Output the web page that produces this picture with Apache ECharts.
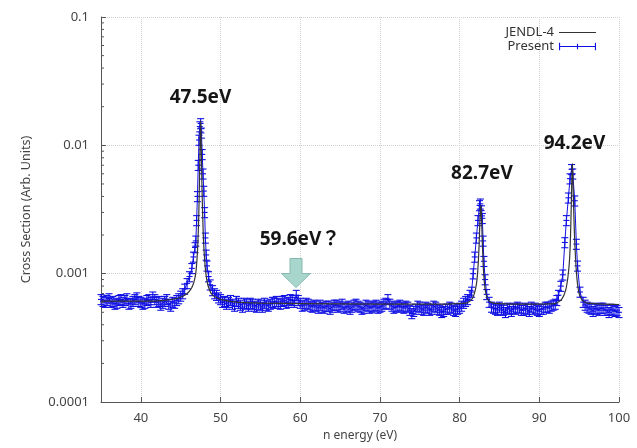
<!DOCTYPE html>
<html><head><meta charset="utf-8">
<script src="https://cdn.jsdelivr.net/npm/echarts@6/dist/echarts.min.js"></script>
<style>html,body{margin:0;padding:0;background:#fff}#c{width:637px;height:448px}</style>
</head><body><div id="c"></div>
<script>
// Values of both curves are given in units of 1e-4 (arb. units)
const Y_UNIT = 1e-4;

// Present measurement: neutron energy (eV)
const presentE = [
  35,35.25,35.5,35.75, 36,36.25,36.5,36.75, 37,37.25,37.5,37.75, 38,38.25,38.5,38.75, 39,39.25,39.5,39.75,
  40,40.25,40.5,40.75, 41,41.25,41.5,41.75, 42,42.25,42.5,42.75, 43,43.25,43.5,43.75, 44,44.25,44.5,44.75, 45,45.25,
  45.5,45.8,46.1,46.4,46.6,46.8,46.9,47,47.1,47.2,47.3,47.4,47.5,47.6,47.7,47.8,47.9,48,48.1,48.2,48.3,48.5,48.7,49,
  49.25,49.5,49.75,
  50,50.25,50.5,50.75, 51,51.25,51.5,51.75, 52,52.25,52.5,52.75, 53,53.25,53.5,53.75, 54,54.25,54.5,54.75,
  55,55.25,55.5,55.75, 56,56.25,56.5,56.75, 57,57.25,57.5,57.75, 58,58.25,58.5,58.75, 59,59.25,59.5,59.75,
  60,60.25,60.5,60.75, 61,61.25,61.5,61.75, 62,62.25,62.5,62.75, 63,63.25,63.5,63.75, 64,64.25,64.5,64.75,
  65,65.25,65.5,65.75, 66,66.25,66.5,66.75, 67,67.25,67.5,67.75, 68,68.25,68.5,68.75, 69,69.25,69.5,69.75,
  70,70.25,70.5,70.75, 71,71.25,71.5,71.75, 72,72.25,72.5,72.75, 73,73.25,73.5,73.75, 74,74.25,74.5,74.75,
  75,75.25,75.5,75.75, 76,76.25,76.5,76.75, 77,77.25,77.5,77.75, 78,78.25,78.5,78.75, 79,79.25,79.5,79.75,
  80,80.25,80.5,80.75, 81,
  81.3,81.5,81.7,81.9,82.1,82.3,82.5,82.6,82.75,82.85,82.95,83.05,83.2,83.4,83.7,
  84,84.25,84.5,84.75, 85,85.25,85.5,85.75, 86,86.25,86.5,86.75, 87,87.25,87.5,87.75, 88,88.25,88.5,88.75,
  89,89.25,89.5,89.75, 90,90.25,90.5,90.75, 91,91.25,91.5,91.75, 92,
  92.2,92.4,92.7,92.95,93.2,93.4,93.65,93.85,94.05,94.2,94.45,94.65,94.8,95.1,95.5,
  95.75, 96,96.25,96.5,96.75, 97,97.25,97.5,97.75, 98,98.25,98.5,98.75, 99,99.25,99.5,99.75, 100
];
// Present measurement: cross section (x 1e-4)
const presentY = [
  6.3,6.1,6.0,6.2, 6.4,6.0,6.1,5.8, 5.9,6.2,6.3,6.0, 6.2,6.4,5.8,5.9, 6.1,6.3,6.5,6.1,
  6.0,5.8,5.9,6.2, 6.3,6.0,6.6,6.3, 6.0,6.1,5.7,5.9, 6.1,6.3,5.8,5.6, 6.0,5.9,6.2,6.4, 6.7,7.0,
  7.6,8.4,9.5,11,13.5,16,18,26,40,70,110,140,148,125,85,60,44,30,19,14,11.5,9.5,8.2,7.4,
  7.0,6.8,6.5,
  6.3,6.0,6.1,5.8, 6.0,6.2,5.8,5.6, 6.1,5.9,5.7,5.5, 5.9,5.8,5.6,5.9, 5.8,5.6,5.5,5.8,
  5.7,5.5,5.9,5.7, 5.6,5.8,6.0,5.9, 6.1,5.9,5.8,6.1, 6.2,5.9,6.0,6.3, 6.2,6.0,6.8,6.2,
  5.9,5.6,5.7,5.9, 5.8,5.6,5.5,5.7, 5.6,5.4,5.7,5.5, 5.4,5.6,5.6,5.3, 5.5,5.7,5.7,5.5,
  5.6,5.8,5.4,5.5, 5.6,5.3,5.5,5.7, 5.8,5.6,5.5,5.3, 5.4,5.7,5.6,5.4, 5.5,5.6,5.7,5.4,
  5.5,5.6,5.8,5.9, 6.3,5.8,5.6,5.4, 5.5,5.6,5.7,5.5, 5.4,5.6,5.5,5.2, 4.9,5.1,5.3,5.6,
  5.5,5.3,5.2,5.5, 5.4,5.2,5.3,5.6, 5.5,5.3,5.2,5.0, 5.1,5.3,5.3,5.5, 5.4,5.2,5.1,5.3,
  5.4,5.6,5.9,6.1, 6.3,
  6.8,7.2,10,13.5,19,26,34,35,31,27,18,12.5,9.0,6.9,6.0,
  5.5,5.4,5.3,5.2, 5.5,5.3,5.2,5.0, 5.4,5.3,5.1,5.4, 5.3,5.5,5.4,5.2, 5.2,5.4,5.3,5.1,
  5.5,5.3,5.4,5.2, 5.1,5.3,5.3,5.5, 5.5,5.4,5.6,5.7, 5.8,
  6.2,6.8,8.0,9.8,17.5,26,39,55,65,60,37,17,11.5,7.2,6.0,
  5.7, 5.5,5.4,5.3,5.1, 5.4,5.3,5.2,5.4, 5.4,5.2,5.2,5.0, 5.3,5.2,5.1,5.2, 5.0
];
const presentRelErr = 0.09;

// JENDL-4 evaluated curve: energy (eV) and cross section (x 1e-4)
const jendlE = [35,40,43,44.5,45.5,46,46.4,46.7,46.9,47.05,47.15,47.25,47.32,47.38,47.43,47.47,47.5,47.53,47.57,47.62,47.68,47.75,47.85,48,48.2,48.5,49,50,52,55,60,70,78,80,81,81.6,82,82.2,82.35,82.45,82.53,82.6,82.65,82.7,82.77,82.85,82.95,83.1,83.3,83.6,84.2,88,92,92.8,93.3,93.6,93.8,93.92,94.0,94.06,94.1,94.14,94.18,94.23,94.3,94.4,94.55,94.75,95,95.4,96,100];
const jendlY = [6.1,6.1,6.2,6.4,6.8,7.2,7.8,8.8,10.2,13,17,26,40,65,100,135,155,140,105,70,45,30,19,13,9.6,7.8,6.8,6.3,6.0,5.9,5.85,5.8,5.8,5.85,5.95,6.4,7.6,9.2,12.5,17,24,31,34,32,25,17.5,12,8.6,7,6.2,5.9,5.8,5.85,6.3,7.4,9.5,13,20,32,48,62,72,65,50,34,21,13,8.8,7,6.2,5.9,5.75];

// axis ticks
const yTickLabels = ['0.0001','0.001','0.01','0.1'];
const yMinorTicks = [2e-4,3e-4,4e-4,5e-4,6e-4,7e-4,8e-4,9e-4,2e-3,3e-3,4e-3,5e-3,6e-3,7e-3,8e-3,9e-3,2e-2,3e-2,4e-2,5e-2,6e-2,7e-2,8e-2,9e-2];

// annotations
const annoE = [47.48, 82.8, 94.41, 59.97];
const annoY = [0.0234, 0.00607, 0.0104, 0.00185];
const annoText = ['47.5eV', '82.7eV', '94.2eV', '59.6eV？'];
const arrowE = [59.47];
const arrowY = [0.00078];

const FONT = '"Noto Sans", "Noto Sans CJK JP", sans-serif';
const BLUE = '#1010e4';

const chart = echarts.init(document.getElementById('c'), null, {renderer: 'canvas'});
const presentData = presentE.map((e, i) => [e, presentY[i] * Y_UNIT]);
const jendlData = jendlE.map((e, i) => [e, jendlY[i] * Y_UNIT]);

chart.setOption({
  animation: false,
  backgroundColor: '#fff',
  grid: {left: 101, right: 18, top: 17, bottom: 46},
  legend: {
    data: [
      {name: 'JENDL-4', icon: 'path://M0,0H40V1.3H0Z'},
      {name: 'Present', icon: 'path://M0,0H1.2V8H0Z M0,3.4H40V4.6H0Z M38.8,0H40V8H38.8Z M19.4,1H20.6V7H19.4Z'}
    ],
    orient: 'vertical', right: 36, top: 21, align: 'right',
    itemWidth: 37, itemHeight: 8, itemGap: 1,
    textStyle: {fontSize: 13, color: '#333', fontFamily: FONT}
  },
  xAxis: {
    type: 'value', min: 35, max: 100,
    name: 'n energy (eV)', nameLocation: 'middle', nameGap: 28,
    nameTextStyle: {fontSize: 12, color: '#444', fontFamily: FONT},
    axisLine: {show: true, lineStyle: {color: '#555', width: 1}},
    axisTick: {show: true, inside: true, length: 5, lineStyle: {color: '#555'}},
    axisLabel: {fontSize: 13, color: '#444', fontFamily: FONT, margin: 10,
      formatter: v => (Math.abs(v % 10) < 1e-9 ? String(v) : '')},
    splitLine: {show: true, lineStyle: {color: '#d0d0d0', type: 'dotted', width: 1}}
  },
  yAxis: {
    type: 'log', logBase: 10, min: 0.0001, max: 0.1,
    name: 'Cross Section (Arb. Units)', nameLocation: 'middle', nameGap: 68,
    nameTextStyle: {fontSize: 12.5, color: '#444', fontFamily: FONT},
    axisLine: {show: true, lineStyle: {color: '#555', width: 1}},
    axisTick: {show: true, inside: true, length: 5, lineStyle: {color: '#555'}},
    axisLabel: {fontSize: 13, color: '#444', fontFamily: FONT, margin: 12,
      formatter: v => yTickLabels[Math.round(Math.log10(v)) + 4] || ''},
    splitLine: {show: true, lineStyle: {color: '#d0d0d0', type: 'dotted', width: 1}}
  },
  series: [
    {
      name: 'PresentLine', type: 'line', data: presentData, showSymbol: false,
      lineStyle: {color: BLUE, width: 1}, z: 2, silent: true
    },
    {
      name: 'Present', type: 'custom', data: presentData, z: 3,
      itemStyle: {color: BLUE},
      encode: {x: 0, y: 1},
      renderItem: function (params, api) {
        const x = api.value(0), y = api.value(1);
        const p = api.coord([x, y]);
        const lo = api.coord([x, y * (1 - presentRelErr)]);
        const hi = api.coord([x, y * (1 + presentRelErr)]);
        const c = 3.5, m = 3;
        const st = {stroke: BLUE, lineWidth: 1.1};
        return {type: 'group', children: [
          {type: 'line', shape: {x1: p[0], y1: lo[1], x2: p[0], y2: hi[1]}, style: st},
          {type: 'line', shape: {x1: p[0] - c, y1: lo[1], x2: p[0] + c, y2: lo[1]}, style: st},
          {type: 'line', shape: {x1: p[0] - c, y1: hi[1], x2: p[0] + c, y2: hi[1]}, style: st},
          {type: 'line', shape: {x1: p[0] - m, y1: p[1], x2: p[0] + m, y2: p[1]}, style: st}
        ]};
      }
    },
    {
      name: 'JENDL-4', type: 'line', data: jendlData, showSymbol: false, smooth: 0.2,
      itemStyle: {color: '#333'},
      lineStyle: {color: '#333', width: 1.2}, z: 4
    },
    {
      name: 'minorTicks', type: 'custom', silent: true, z: 6,
      data: yMinorTicks.map(v => [35, v]),
      renderItem: function (params, api) {
        const c = api.coord([api.value(0), api.value(1)]);
        return {type: 'line', shape: {x1: c[0], y1: c[1], x2: c[0] + 3, y2: c[1]},
          style: {stroke: '#555', lineWidth: 1}};
      }
    },
    {
      name: 'arrow', type: 'custom', silent: true, z: 7,
      data: arrowE.map((e, i) => [e, arrowY[i]]),
      renderItem: function (params, api) {
        const c = api.coord([api.value(0), api.value(1)]);
        const x = c[0], y = c[1];
        return {type: 'polygon', shape: {points: [[x, y], [x - 14.5, y - 14], [x - 6, y - 14], [x - 6, y - 29], [x + 6, y - 29], [x + 6, y - 14], [x + 14.5, y - 14]]},
          style: {fill: '#a8d6cc', stroke: '#86bab0', lineWidth: 1}};
      }
    },
    {
      name: 'annotations', type: 'custom', silent: true, z: 8,
      data: annoE.map((e, i) => [e, annoY[i], i]),
      renderItem: function (params, api) {
        const c = api.coord([api.value(0), api.value(1)]);
        return {type: 'text', x: c[0], y: c[1],
          style: {text: annoText[api.value(2)], fill: '#151515',
            font: 'bold 19px ' + FONT, align: 'center', verticalAlign: 'middle'}};
      }
    }
  ]
});
</script>
</body></html>
